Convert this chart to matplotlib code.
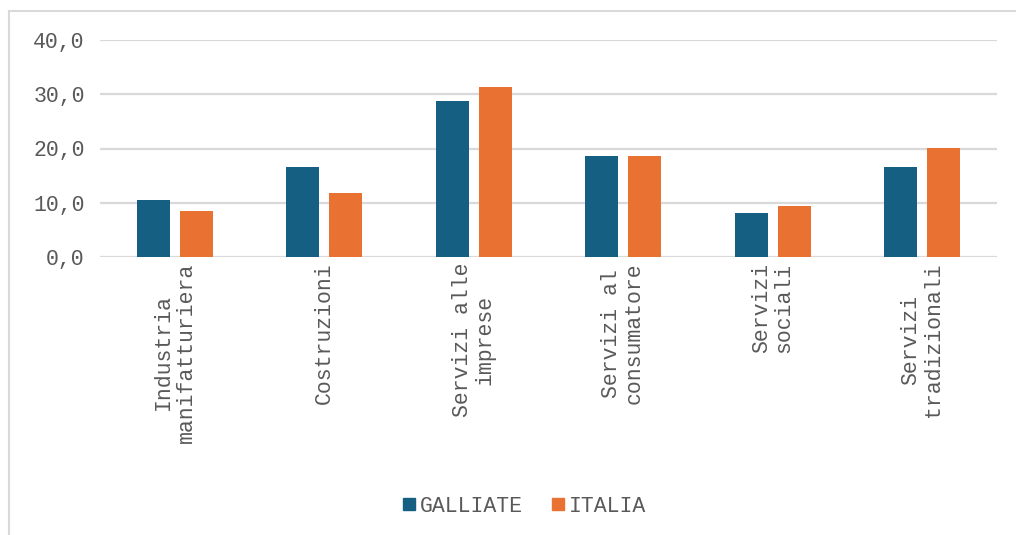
import numpy as np
import matplotlib.pyplot as plt
from matplotlib.lines import Line2D

plt.rcParams['font.family'] = ['Liberation Mono', 'DejaVu Sans Mono']

# dati
categorie = ['Industria\nmanifatturiera', 'Costruzioni', 'Servizi alle\nimprese',
             'Servizi al\nconsumatore', 'Servizi\nsociali', 'Servizi\ntradizionali']
galliate = [10.5, 16.6, 28.7, 18.6, 8.1, 16.6]
italia = [8.5, 11.8, 31.4, 18.6, 9.4, 20.1]
serie = ['GALLIATE', 'ITALIA']
colori = ['#156082', '#E97132']
grigio = '#595959'

fig = plt.figure(figsize=(10.16, 5.35), dpi=100)
ax = fig.add_axes([100 / 1016, 1 - 257 / 535, 897 / 1016, 217 / 535])

x = np.arange(len(categorie))
w = 0.22
ax.bar(x - 0.144, galliate, w, color=colori[0], label=serie[0], zorder=3)
ax.bar(x + 0.144, italia, w, color=colori[1], label=serie[1], zorder=3)

ax.set_xlim(-0.5, len(categorie) - 0.5)
ax.set_ylim(0, 40)
ax.set_yticks([0, 10, 20, 30, 40])
ax.set_yticklabels([f'{v:.1f}'.replace('.', ',') for v in [0, 10, 20, 30, 40]])
ax.grid(axis='y', color='#d9d9d9', linewidth=1.6, zorder=0)
ax.tick_params(axis='y', length=0, pad=11, labelsize=15.5, labelcolor=grigio)
ax.tick_params(axis='x', length=0)
ax.set_xticks(x)
ax.set_xticklabels([])
for s in ax.spines.values():
    s.set_visible(False)

# etichette categorie ruotate
for xi, lab in zip(x, categorie):
    ax.text(xi, -1.0, lab, rotation=90, ha='center', va='top', fontsize=15.5,
            color=grigio, linespacing=1.1)

# legenda
handles = [Line2D([], [], marker='s', linestyle='', markersize=8.5, color=c) for c in colori]
fig.legend(handles, serie, loc='center', bbox_to_anchor=(0.515, 1 - 506 / 535), ncol=2,
           frameon=False, fontsize=15.5, labelcolor=grigio, handletextpad=0.1,
           columnspacing=1.2, handlelength=0.8)

# bordo esterno
fig.add_artist(Line2D([9 / 1016, 9 / 1016], [0, 1 - 11 / 535], transform=fig.transFigure,
                      color='#d9d9d9', linewidth=1.5))
fig.add_artist(Line2D([9 / 1016, 1], [1 - 11 / 535, 1 - 11 / 535], transform=fig.transFigure,
                      color='#d9d9d9', linewidth=1.5))

fig.savefig('out.png', dpi=100)
